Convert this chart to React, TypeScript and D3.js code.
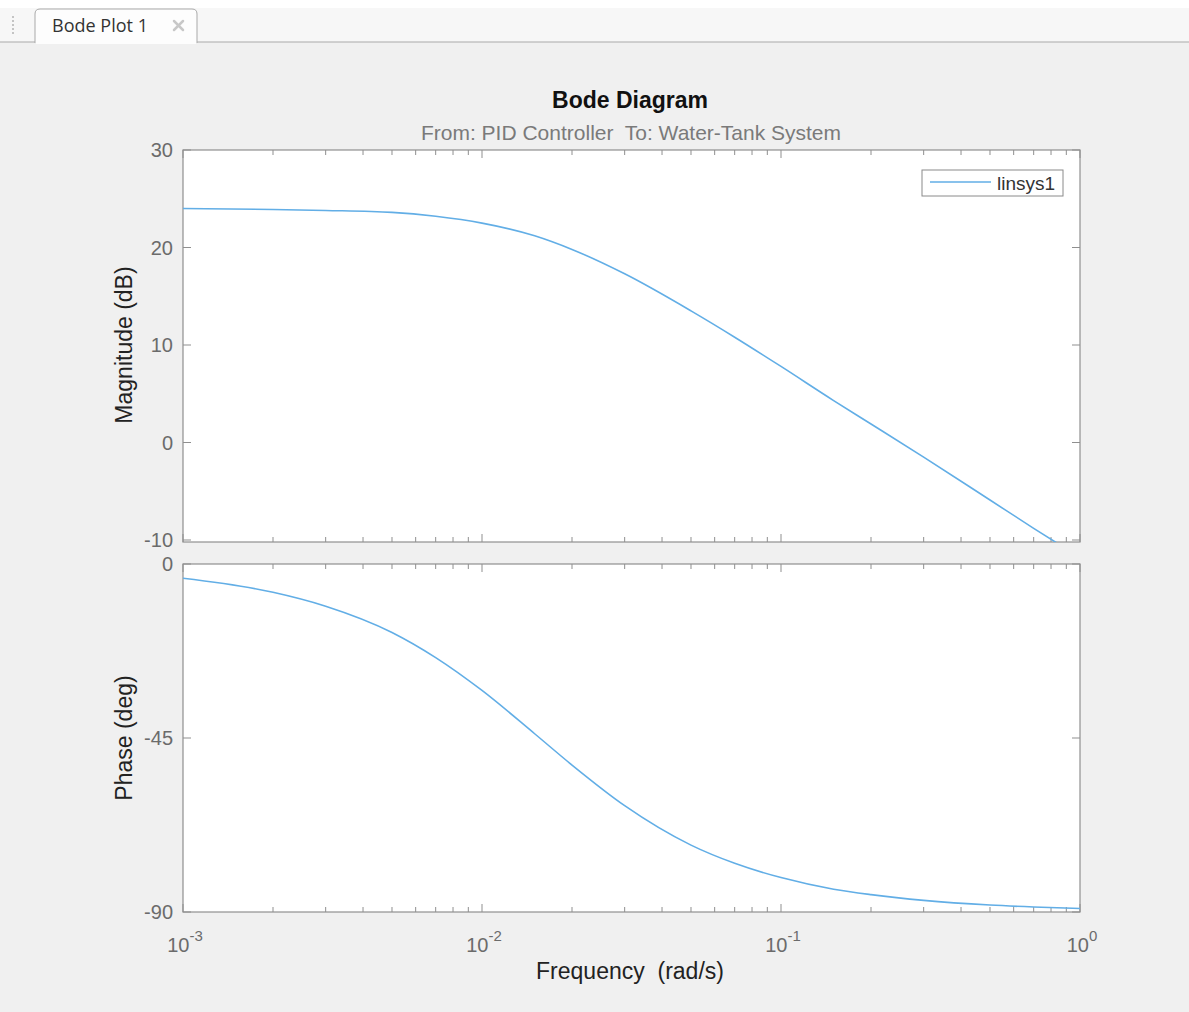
import React from "react";
import * as d3 from "d3";

const freqs = [0.001, 0.002, 0.003, 0.005, 0.007, 0.01, 0.015, 0.02, 0.03, 0.05, 0.07, 0.1, 0.15, 0.2, 0.3, 0.5, 0.7, 1.0];
const magDb = [24.0, 23.9, 23.8, 23.6, 23.2, 22.5, 21.2, 19.8, 17.3, 13.5, 10.8, 7.8, 4.3, 1.9, -1.5, -5.9, -8.8, -11.8];
const phaseDeg = [-3.7, -7.3, -10.9, -17.7, -24.2, -32.7, -43.9, -52.0, -62.5, -72.7, -77.4, -81.1, -84.1, -85.5, -87.0, -88.2, -88.7, -89.1];
const magTicks = [30, 20, 10, 0, -10];
const phaseTicks = [0, -45, -90];
const decadeExps = [-3, -2, -1, 0];
const seriesName = "linsys1";

const W = 1189;
const H = 1012;
const L = 183;
const R = 1080;
const magTop = 150;
const magBot = 540;
const phTop = 564;
const phBot = 912;
const axisColor = "#8f8f8f";
const textColor = "#6b6b6b";
const lineColor = "#62aee6";
const font = "'Liberation Sans', Arial, Helvetica, sans-serif";

export default function App() {
  const x = d3.scaleLog().domain([1e-3, 1]).range([L, R]);
  const yMag = d3.scaleLinear().domain([-10, 30]).range([magBot, magTop]);
  const yPh = d3.scaleLinear().domain([-90, 0]).range([phBot, phTop]);

  const magLine = d3
    .line<number>()
    .x((_, i) => x(freqs[i]))
    .y((d) => yMag(d))
    .curve(d3.curveMonotoneX);
  const phLine = d3
    .line<number>()
    .x((_, i) => x(freqs[i]))
    .y((d) => yPh(d))
    .curve(d3.curveMonotoneX);

  const minorTicks: { v: number; major: boolean }[] = [];
  for (let e = -3; e <= 0; e++) {
    for (let m = 1; m <= 9; m++) {
      const v = m * Math.pow(10, e);
      if (v > 1.0000001) break;
      minorTicks.push({ v, major: m === 1 });
    }
  }

  const xTicks = (top: number, bot: number, key: string) =>
    minorTicks.map((t, i) => {
      const len = t.major ? 8 : 5;
      const xx = x(t.v);
      return (
        <g key={key + i}>
          <line x1={xx} x2={xx} y1={bot} y2={bot - len} stroke={axisColor} strokeWidth={1} />
          <line x1={xx} x2={xx} y1={top} y2={top + len} stroke={axisColor} strokeWidth={1} />
        </g>
      );
    });

  const yTicksFor = (ticks: number[], scale: d3.ScaleLinear<number, number>, key: string) =>
    ticks.map((t) => {
      const yy = scale(t);
      return (
        <g key={key + t}>
          <line x1={L} x2={L + 8} y1={yy} y2={yy} stroke={axisColor} strokeWidth={1} />
          <line x1={R} x2={R - 8} y1={yy} y2={yy} stroke={axisColor} strokeWidth={1} />
          <text x={L - 10} y={yy + 7} textAnchor="end" fontSize={20} fill={textColor} fontFamily={font}>
            {t}
          </text>
        </g>
      );
    });

  return (
    <div style={{ position: "fixed", left: 0, top: 0, width: W, height: H }}>
      <svg width={W} height={H} style={{ display: "block" }}>
        <defs>
          <clipPath id="clipMag">
            <rect x={L} y={magTop} width={R - L} height={magBot - magTop + 2} />
          </clipPath>
          <clipPath id="clipPh">
            <rect x={L} y={phTop} width={R - L} height={phBot - phTop} />
          </clipPath>
        </defs>
        <rect x={0} y={0} width={W} height={H} fill="#f0f0f0" />
        {/* tab strip */}
        <rect x={0} y={0} width={W} height={42} fill="#f7f7f7" />
        <rect x={0} y={0} width={W} height={8} fill="#ffffff" />
        <line x1={0} x2={W} y1={42} y2={42} stroke="#a9a9a9" strokeWidth={1} />
        <line x1={13} x2={13} y1={16} y2={34} stroke="#c4c4c4" strokeWidth={2} strokeDasharray="2,2" />
        <path d="M35,43 L35,14 Q35,9 40,9 L192,9 Q197,9 197,14 L197,43" fill="#fdfdfd" stroke="#a9a9a9" strokeWidth={1} />
        <rect x={36} y={41} width={160} height={3} fill="#fdfdfd" />
        <text x={52} y={32} fontSize={18} fill="#333333" fontFamily="'Open Sans', 'Noto Sans', sans-serif" textLength={96}>
          Bode Plot 1
        </text>
        <g stroke="#c8c8c8" strokeWidth={2.5} strokeLinecap="round">
          <line x1={174} x2={183} y1={21} y2={30} />
          <line x1={183} x2={174} y1={21} y2={30} />
        </g>

        {/* titles */}
        <text x={630} y={108} textAnchor="middle" fontSize={23} fontWeight="bold" fill="#111" fontFamily={font}>
          Bode Diagram
        </text>
        <text x={631} y={140} textAnchor="middle" fontSize={21} fill="#7a7a7a" fontFamily={font} style={{ whiteSpace: "pre" }}>
          {"From: PID Controller  To: Water-Tank System"}
        </text>

        {/* magnitude axes */}
        <rect x={L} y={magTop} width={R - L} height={magBot - magTop + 2} fill="#ffffff" stroke={axisColor} strokeWidth={1.2} />
        {xTicks(magTop, magBot + 2, "mx")}
        {yTicksFor(magTicks, yMag, "my")}
        <path d={magLine(magDb) || ""} fill="none" stroke={lineColor} strokeWidth={1.6} clipPath="url(#clipMag)" />

        {/* legend */}
        <rect x={922} y={170} width={141} height={26} fill="#ffffff" stroke="#8a8a8a" strokeWidth={1} />
        <line x1={930} x2={991} y1={182} y2={182} stroke={lineColor} strokeWidth={1.6} />
        <text x={997} y={190} fontSize={19} fill="#333" fontFamily={font}>
          {seriesName}
        </text>

        {/* phase axes */}
        <rect x={L} y={phTop} width={R - L} height={phBot - phTop} fill="#ffffff" stroke={axisColor} strokeWidth={1.2} />
        {xTicks(phTop, phBot, "px")}
        {yTicksFor(phaseTicks, yPh, "py")}
        <path d={phLine(phaseDeg) || ""} fill="none" stroke={lineColor} strokeWidth={1.6} clipPath="url(#clipPh)" />

        {/* x tick labels */}
        {decadeExps.map((e) => (
          <text key={"xl" + e} x={x(Math.pow(10, e)) + 2} y={952} textAnchor="middle" fontSize={20} fill={textColor} fontFamily={font}>
            <tspan>10</tspan>
            <tspan dy={-11} fontSize={15}>
              {e}
            </tspan>
          </text>
        ))}

        {/* axis labels */}
        <text x={630} y={979} textAnchor="middle" fontSize={23} fill="#222" fontFamily={font} style={{ whiteSpace: "pre" }}>
          {"Frequency  (rad/s)"}
        </text>
        <text transform={`translate(132,${(magTop + magBot) / 2}) rotate(-90)`} textAnchor="middle" fontSize={23} fill="#222" fontFamily={font}>
          Magnitude (dB)
        </text>
        <text transform={`translate(132,${(phTop + phBot) / 2}) rotate(-90)`} textAnchor="middle" fontSize={23} fill="#222" fontFamily={font}>
          Phase (deg)
        </text>
      </svg>
    </div>
  );
}
